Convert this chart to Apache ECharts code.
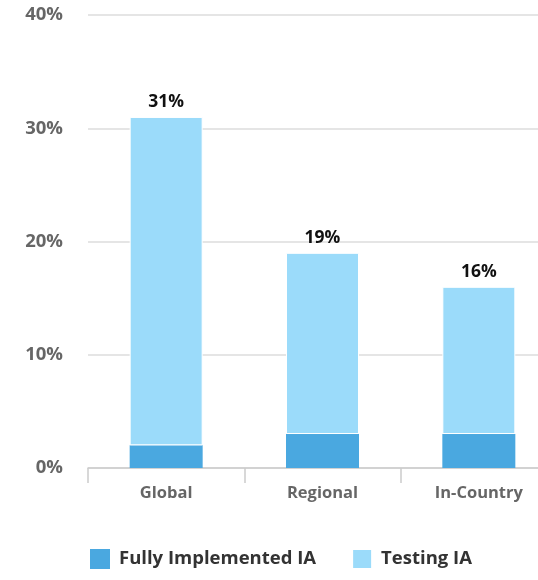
<!DOCTYPE html>
<html>
<head>
<meta charset="utf-8">
<script src="https://cdn.jsdelivr.net/npm/echarts@6/dist/echarts.min.js"></script>
<style>
html,body{margin:0;padding:0;background:#fff;overflow:hidden;width:538px;height:580px;}
#c{width:557px;height:580px;}
</style>
</head>
<body>
<div id="c"></div>
<script>
const categories = ['Global', 'Regional', 'In-Country'];
const fullyImplemented = [2, 3, 3];
const testing = [29, 16, 13];
const yTicks = [0, 10, 20, 30, 40];

const FONT = '"Open Sans", sans-serif';
const chart = echarts.init(document.getElementById('c'));
chart.setOption({
  animation: false,
  backgroundColor: '#fff',
  textStyle: { fontFamily: FONT },
  grid: { left: 88, right: 0, top: 15, bottom: 112, containLabel: false },
  legend: {
    bottom: 5,
    left: 85,
    itemWidth: 20,
    itemHeight: 20,
    itemGap: 35,
    icon: 'rect',
    textStyle: { fontSize: 18.5, fontWeight: 'bold', color: '#333', fontFamily: FONT, padding: [0, 0, 0, 4] },
    data: ['Fully Implemented IA', 'Testing IA']
  },
  xAxis: {
    type: 'category',
    data: categories,
    axisLine: { lineStyle: { color: '#ccc', width: 1.5 } },
    axisTick: { show: true, length: 15, lineStyle: { color: '#ccc', width: 1.5 } },
    axisLabel: { color: '#666', fontSize: 16.5, fontWeight: 'bold', margin: 17, fontFamily: FONT }
  },
  yAxis: {
    type: 'value',
    min: yTicks[0],
    max: yTicks[yTicks.length - 1],
    interval: 10,
    axisLine: { show: false },
    axisTick: { show: false },
    splitLine: { lineStyle: { color: '#ddd', width: 1.5 } },
    axisLabel: { color: '#666', fontSize: 18.5, fontWeight: 'bold', margin: 25, formatter: '{value}%', fontFamily: FONT }
  },
  series: [
    {
      name: 'Fully Implemented IA',
      type: 'bar',
      stack: 's',
      barWidth: 73,
      data: fullyImplemented,
      itemStyle: { color: '#4aa8e0' }
    },
    {
      name: 'Testing IA',
      type: 'bar',
      stack: 's',
      barWidth: 73,
      data: testing,
      itemStyle: { color: '#9bdbfa', borderColor: '#fff', borderWidth: 1 },
      label: {
        show: true,
        position: 'top',
        distance: 6,
        color: '#111',
        fontSize: 17.5,
        fontWeight: 'bold',
        fontFamily: FONT,
        formatter: p => (fullyImplemented[p.dataIndex] + testing[p.dataIndex]) + '%'
      }
    }
  ]
});
</script>
</body>
</html>
